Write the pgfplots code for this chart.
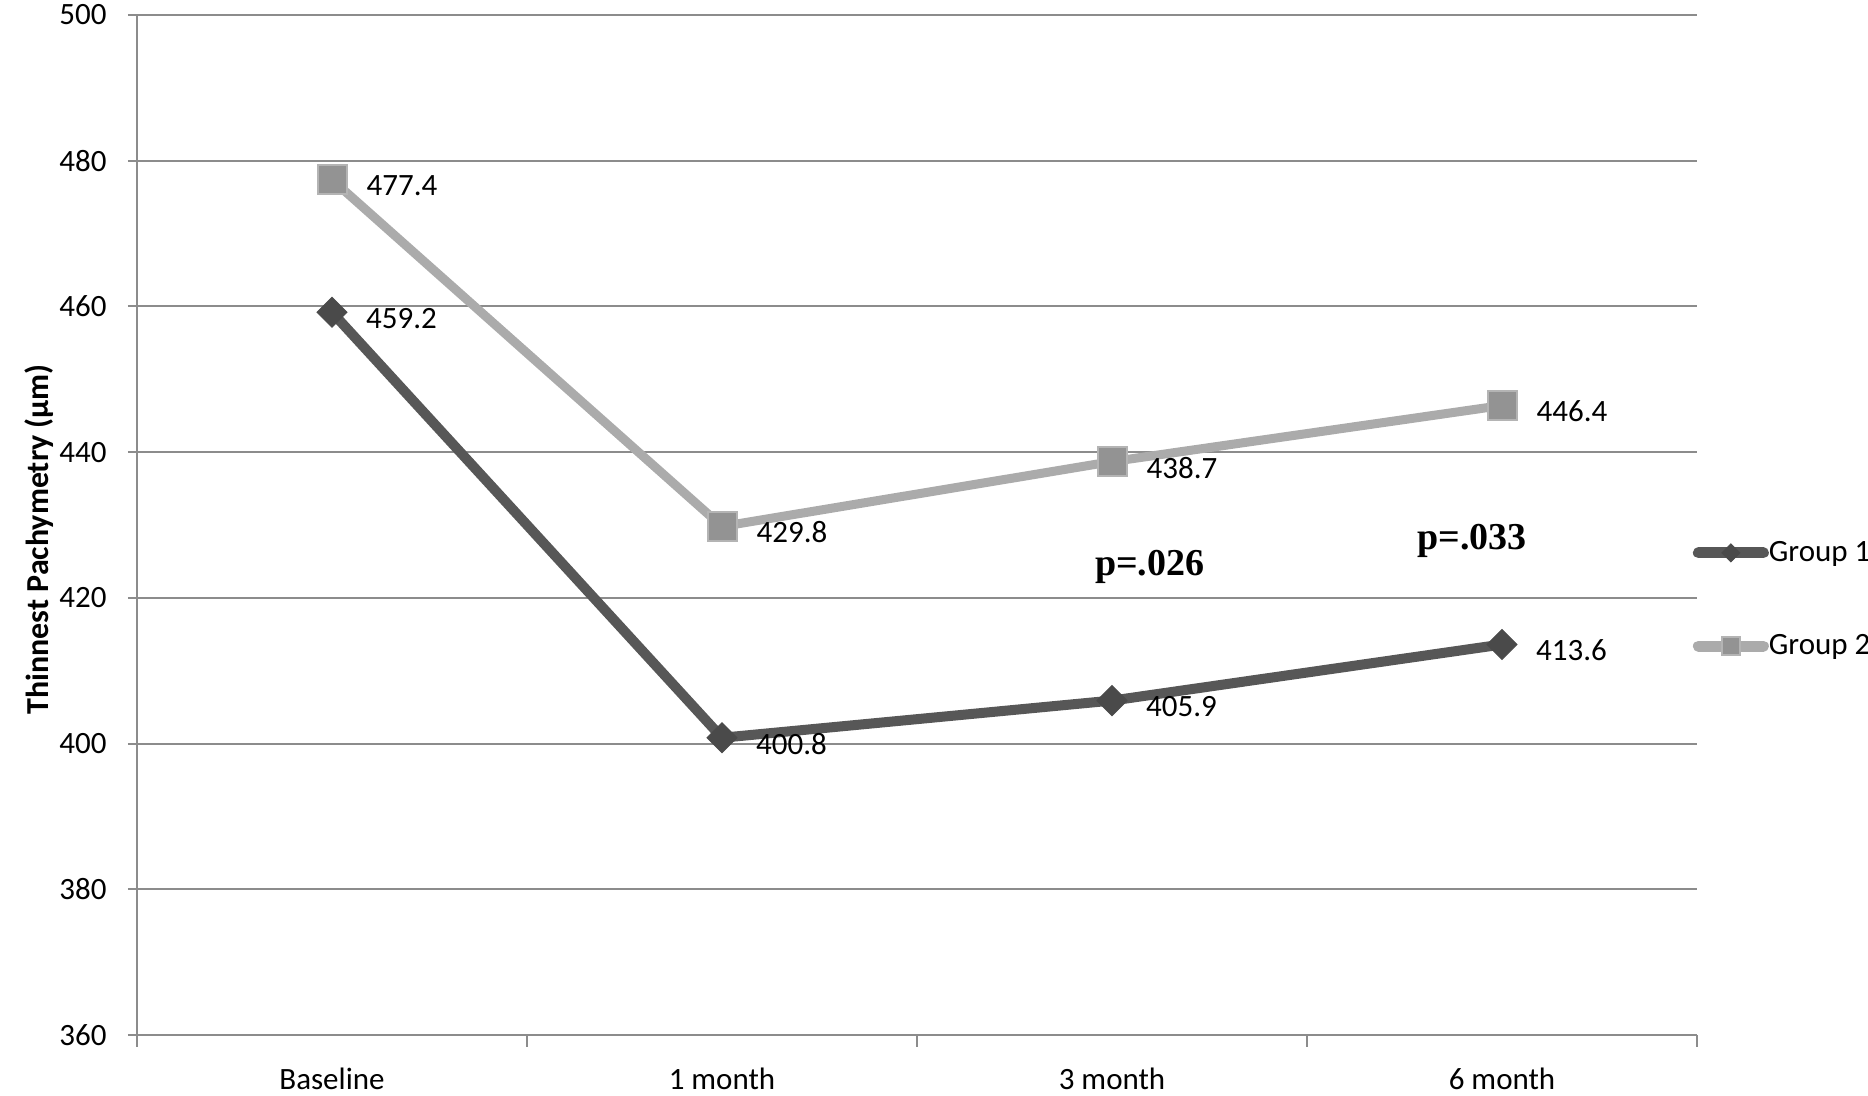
\documentclass[border=0pt]{standalone}
\usepackage{pgfplots}
\pgfplotsset{compat=1.18}
\usepackage{fontspec}
\setmainfont{Carlito}
\newfontfamily\tnr{Liberation Serif}
\definecolor{gridc}{HTML}{8C8C8C}
\definecolor{darkline}{HTML}{575757}
\definecolor{darkmark}{HTML}{4A4A4A}
\definecolor{lightline}{HTML}{ABABAB}
\definecolor{lightmark}{HTML}{939393}
\definecolor{lightedge}{HTML}{B4B4B4}
\begin{document}
\begin{tikzpicture}
\useasboundingbox (-68.5pt,-30.5pt) rectangle (865.5pt,517.5pt);
\begin{axis}[
  at={(0pt,0pt)}, anchor=south west,
  scale only axis, width=780pt, height=510pt,
  xmin=-0.5, xmax=3.5, ymin=360, ymax=500,
  axis x line*=bottom, axis y line*=left,
  axis line style={draw=gridc, line width=1pt, -},
  xtick={0,1,2,3},
  xticklabels={Baseline,1 month,3 month,6 month},
  minor xtick={-0.5,0.5,1.5,2.5,3.5},
  ytick={360,380,...,500},
  ymajorgrids,
  grid style={draw=gridc, line width=1pt},
  tick align=outside,
  major tick length=4.5pt, minor tick length=6pt,
  major x tick style={draw=none},
  minor x tick style={draw=gridc, line width=1pt},
  major y tick style={draw=gridc, line width=1pt},
  /pgf/number format/assume math mode=true,
  tick label style={font=\fontsize{15.5}{18}\selectfont, text=black},
  yticklabel style={anchor=east, inner sep=0pt, xshift=-10.5pt},
  xticklabel style={anchor=base, inner sep=0pt, yshift=-22.7pt},
  ylabel={\bfseries Thinnest Pachymetry (µm)},
  ylabel style={at={(axis description cs:-0.0628,0.486)}, anchor=center, font=\fontsize{16}{19}\selectfont},
  nodes near coords={\pgfmathprintnumber[fixed,precision=1,fixed zerofill]{\pgfplotspointmeta}},
  every node near coord/.append style={anchor=west, xshift=13.5pt, yshift=-3pt, font=\fontsize{15.5}{18}\selectfont, text=black},
  legend style={draw=none, fill=none, at={(axis description cs:0.9971,0.427)}, anchor=west,
    font=\fontsize{15.5}{18}\selectfont, row sep=35pt, inner sep=0pt,
    nodes={inner sep=0pt}, /tikz/every even column/.style={column sep=6.75pt}},
  legend cell align=left,
  legend image code/.code={\draw[mark repeat=2, mark phase=2, line width=5.5pt, line cap=round, every mark/.append style={scale=0.6}] plot coordinates {(0pt,0pt) (16.25pt,0pt) (32.5pt,0pt)};},
]
\addplot[darkline, line width=5pt, mark=square*, mark size=5.3pt,
  mark options={rotate=45, fill=darkmark, draw=darkmark, line width=0.5pt}]
  coordinates {(0,459.2) (1,400.8) (2,405.9) (3,413.6)};
\addlegendentry{Group 1}
\addplot[lightline, line width=4.5pt, mark=square*, mark size=7.25pt,
  mark options={fill=lightmark, draw=lightedge, line width=1pt}]
  coordinates {(0,477.4) (1,429.8) (2,438.7) (3,446.4)};
\addlegendentry{Group 2}
\node[anchor=base, font=\tnr\bfseries\fontsize{19}{22}\selectfont] at (axis cs:2.097,423.1) {p=.026};
\node[anchor=base, font=\tnr\bfseries\fontsize{19}{22}\selectfont] at (axis cs:2.923,426.6) {p=.033};
\end{axis}
\end{tikzpicture}
\end{document}
